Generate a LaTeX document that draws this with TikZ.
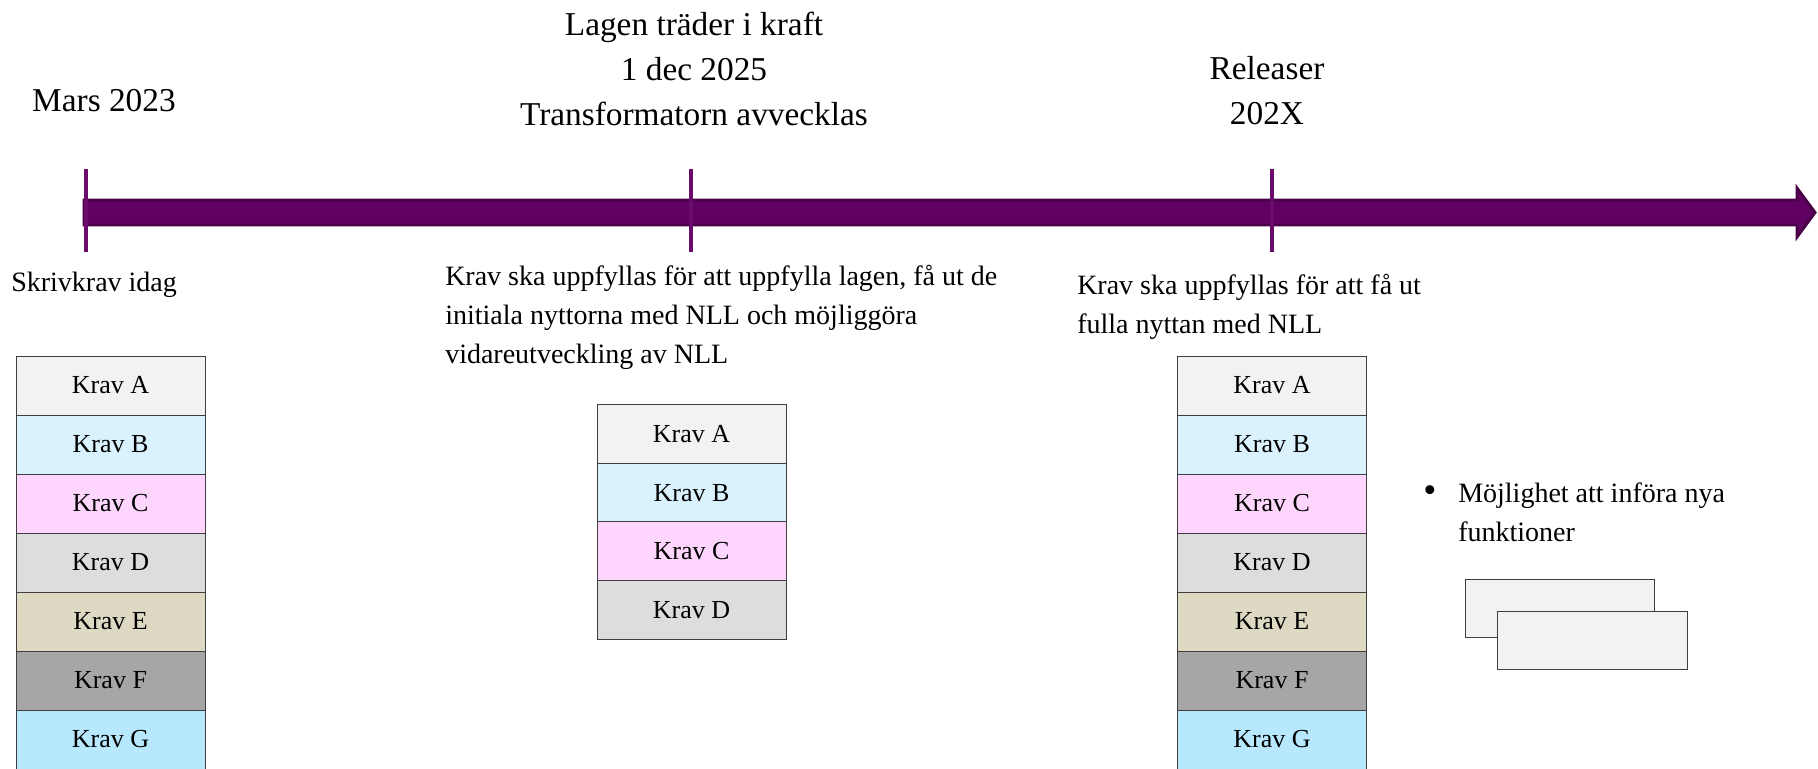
\documentclass[tikz,border=0pt]{standalone}
\usepackage{fontspec}
\setmainfont{Liberation Serif}
\definecolor{shaftfill}{HTML}{600060}
\definecolor{shaftedge}{HTML}{4A0046}
\definecolor{tickcol}{HTML}{6A0A6A}
\definecolor{boxedge}{HTML}{3F3F3F}
\definecolor{cA}{HTML}{F2F2F2}
\definecolor{cB}{HTML}{DAF2FD}
\definecolor{cC}{HTML}{FDD5FD}
\definecolor{cD}{HTML}{DDDDDD}
\definecolor{cE}{HTML}{DDD9C3}
\definecolor{cF}{HTML}{A6A6A6}
\definecolor{cG}{HTML}{B7E8FD}
\tikzset{
  toptext/.style={inner sep=0pt, align=center, font=\fontsize{25pt}{33.75pt}\selectfont},
  paratext/.style={inner sep=0pt, align=left, anchor=west, font=\fontsize{21pt}{29pt}\selectfont},
  kravbox/.style={draw=boxedge, line width=0.75pt, minimum width=141.75pt, minimum height=44.25pt, inner sep=0pt, font=\fontsize{19.5pt}{23pt}\selectfont},
  kravboxm/.style={kravbox, minimum height=43.9pt},
  emptybox/.style={draw=boxedge, line width=0.75pt, fill=cA, minimum width=142pt, minimum height=43.5pt, inner sep=0pt},
  tick/.style={draw=tickcol, line width=3pt}
}
\begin{document}
\begin{tikzpicture}[x=0.75pt,y=-0.75pt]
\useasboundingbox (0,0) rectangle (1818,768);
% timeline arrow
\path[fill=shaftfill, draw=shaftedge, line width=2.2pt, line join=miter]
  (84,200) -- (1797,200) -- (1797,188) -- (1815,212.5) -- (1797,237) -- (1797,225) -- (84,225) -- cycle;
% ticks
\coordinate (t1a) at (86,169); \coordinate (t1b) at (86,252);
\coordinate (t2a) at (691,169); \coordinate (t2b) at (691,252);
\coordinate (t3a) at (1272,169); \coordinate (t3b) at (1272,252);
\draw[tick] (t1a) -- (t1b);
\draw[tick] (t2a) -- (t2b);
\draw[tick] (t3a) -- (t3b);
% top labels
\node[toptext] (mars) at (104,101) {Mars 2023};
\node[toptext] (lagen) at (694,68.5) {Lagen träder i kraft\\1 dec 2025\\Transformatorn avvecklas};
\node[toptext] (rel) at (1267,91) {Releaser\\202X};
% lower labels
\node[paratext] (skriv) at (11,285) {Skrivkrav idag};
\node[paratext] (mid) at (445,317.5) {Krav ska uppfyllas för att uppfylla lagen, få ut de\\initiala nyttorna med NLL och möjliggöra\\vidareutveckling av NLL};
\node[paratext] (right) at (1077,307) {Krav ska uppfyllas för att få ut\\fulla nyttan med NLL};
% left stack
\node[kravbox, fill=cA] (lA) at (110.5,385.5) {Krav A};
\node[kravbox, fill=cB] (lB) at (110.5,444.5) {Krav B};
\node[kravbox, fill=cC] (lC) at (110.5,503.5) {Krav C};
\node[kravbox, fill=cD] (lD) at (110.5,562.5) {Krav D};
\node[kravbox, fill=cE] (lE) at (110.5,621.5) {Krav E};
\node[kravbox, fill=cF] (lF) at (110.5,680.5) {Krav F};
\node[kravbox, fill=cG] (lG) at (110.5,739.5) {Krav G};
% middle stack
\node[kravboxm, fill=cA] (mA) at (691.5,434.25) {Krav A};
\node[kravboxm, fill=cB] (mB) at (691.5,492.75) {Krav B};
\node[kravboxm, fill=cC] (mC) at (691.5,551.25) {Krav C};
\node[kravboxm, fill=cD] (mD) at (691.5,609.75) {Krav D};
% right stack
\node[kravbox, fill=cA] (rA) at (1272,385.5) {Krav A};
\node[kravbox, fill=cB] (rB) at (1272,444.5) {Krav B};
\node[kravbox, fill=cC] (rC) at (1272,503.5) {Krav C};
\node[kravbox, fill=cD] (rD) at (1272,562.5) {Krav D};
\node[kravbox, fill=cE] (rE) at (1272,621.5) {Krav E};
\node[kravbox, fill=cF] (rF) at (1272,680.5) {Krav F};
\node[kravbox, fill=cG] (rG) at (1272,739.5) {Krav G};
% bullet
\node[inner sep=0pt, font=\fontsize{28pt}{29pt}\selectfont] (bul) at (1430,494) {•};
\node[paratext] (moj) at (1458,512.5) {Möjlighet att införa nya\\funktioner};
% empty boxes
\node[emptybox] (eb1) at (1560,608) {};
\node[emptybox] (eb2) at (1592.5,640.5) {};
\end{tikzpicture}
\end{document}
